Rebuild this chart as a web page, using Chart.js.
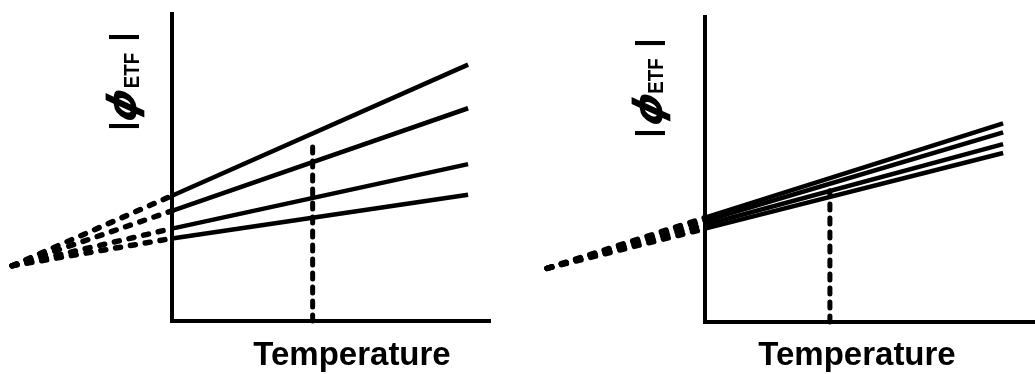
<!DOCTYPE html>
<html>
<head>
<meta charset="utf-8">
<script src="https://cdn.jsdelivr.net/npm/chart.js@4.4.1/dist/chart.umd.min.js"></script>
<style>
  html, body { margin: 0; padding: 0; background: #fff; }
  #wrap { position: relative; width: 1035px; height: 374px; overflow: hidden; }
  canvas { position: absolute; top: 0; }
  #cL { left: 0; }
  #cR { left: 517px; }
</style>
</head>
<body>
<div id="wrap">
  <canvas id="cL" width="517" height="374"></canvas>
  <canvas id="cR" width="518" height="374"></canvas>
</div>
<script>
// ---- Left panel: four lines that fan out from a common extrapolated point ----
const leftTemps = [-5.4, 0, 10];          // extrapolated origin, axis, end of line
const leftPhiA = [1.8, 4.08, 8.35];
const leftPhiB = [1.8, 3.59, 6.93];
const leftPhiC = [1.8, 3.01, 5.11];
const leftPhiD = [1.8, 2.69, 4.11];
const leftMarkT = [4.75, 4.75];           // vertical marker at the chosen temperature
const leftMarkPhi = [0, 5.92];

// ---- Right panel: four nearly coincident lines ----
const rightTemps = [-5.3, 0, 10];
const rightPhiA = [1.76, 3.42, 6.51];
const rightPhiB = [1.76, 3.32, 6.22];
const rightPhiC = [1.76, 3.19, 5.83];
const rightPhiD = [1.76, 3.06, 5.54];
const rightMarkT = [4.19, 4.19];
const rightMarkPhi = [0, 4.3];

const yLabelTexts = ['|', '\u03D5', 'ETF', '|'];
const xLabelText = 'Temperature';

const pts = (xs, ys) => xs.map((x, i) => ({ x, y: ys[i] }));

// solid above the axis, dashed for the extrapolated part (first segment)
function fanLine(xs, ys) {
  return {
    data: pts(xs, ys),
    borderColor: '#000',
    borderWidth: 4.5,
    borderCapStyle: 'butt',
    pointRadius: 0,
    tension: 0,
    clip: false,
    segment: {
      borderDash: c => (c.p0DataIndex === 0 ? [5, 10] : undefined),
      borderWidth: c => (c.p0DataIndex === 0 ? 5.5 : undefined),
      borderCapStyle: c => (c.p0DataIndex === 0 ? 'round' : undefined)
    }
  };
}

function markerLine(xs, ys) {
  return {
    data: pts(xs, ys),
    borderColor: '#000',
    borderWidth: 5,
    borderDash: [6, 8],
    borderCapStyle: 'round',
    pointRadius: 0,
    clip: false
  };
}

// draws the rotated |phi_ETF| caption and the temperature caption
const captions = {
  id: 'captions',
  afterDraw(chart, args, o) {
    const { ctx, chartArea: a } = chart;
    ctx.save();
    ctx.fillStyle = '#000';
    const bx = a.left + o.baseX;
    o.pieces.forEach(p => {
      ctx.save();
      ctx.translate(bx + (p.drop || 0), a.top + p.y);
      ctx.rotate(-Math.PI / 2);
      if (p.skew) ctx.transform(1, 0, -p.skew, 1, 0, 0);
      if (p.sx) ctx.scale(p.sx, 1);
      ctx.font = p.font;
      ctx.textAlign = 'center';
      ctx.textBaseline = 'alphabetic';
      ctx.fillText(p.text, 0, 0);
      ctx.restore();
    });
    ctx.font = o.captionFont;
    ctx.textAlign = 'center';
    ctx.textBaseline = 'alphabetic';
    ctx.fillText(xLabelText, a.left + o.captionX, a.bottom + o.captionY);
    ctx.restore();
  }
};

const SANS = '"Liberation Sans", Arial, sans-serif';
const barFont = 'bold 32px ' + SANS;
const phiFont = 'bold 40px "DejaVu Sans"';
const subFont = 'bold 22px ' + SANS;

function axisOpts(max) {
  return {
    type: 'linear',
    min: 0,
    max: max,
    ticks: { display: false },
    grid: { display: false, drawTicks: false },
    border: { display: true, color: '#000', width: 4 }
  };
}

function makeChart(id, datasets, xMax, padding, cap) {
  return new Chart(document.getElementById(id), {
    type: 'line',
    data: { datasets },
    options: {
      responsive: false,
      animation: false,
      devicePixelRatio: 1,
      layout: { padding },
      scales: { x: axisOpts(xMax), y: axisOpts(10) },
      plugins: {
        legend: { display: false },
        tooltip: { enabled: false },
        captions: cap
      }
    },
    plugins: [captions]
  });
}

makeChart('cL', [
  fanLine(leftTemps, leftPhiA),
  fanLine(leftTemps, leftPhiB),
  fanLine(leftTemps, leftPhiC),
  fanLine(leftTemps, leftPhiD),
  markerLine(leftMarkT, leftMarkPhi)
], 10.74, { left: 172, right: 27, top: 14, bottom: 53 }, {
  baseX: -40,
  pieces: [
    { text: yLabelTexts[0], y: 112, font: barFont },
    { text: yLabelTexts[1], y: 96, font: phiFont, drop: 4, skew: 0.45 },
    { text: yLabelTexts[2], y: 56.5, font: subFont, drop: 6.7, sx: 0.85 },
    { text: yLabelTexts[3], y: 23, font: barFont }
  ],
  captionFont: 'bold 33px ' + SANS,
  captionX: 180,
  captionY: 44
});

makeChart('cR', [
  fanLine(rightTemps, rightPhiA),
  fanLine(rightTemps, rightPhiB),
  fanLine(rightTemps, rightPhiC),
  fanLine(rightTemps, rightPhiD),
  markerLine(rightMarkT, rightMarkPhi)
], 11.07, { left: 188, right: 0, top: 17, bottom: 52 }, {
  baseX: -47,
  pieces: [
    { text: yLabelTexts[0], y: 116, font: barFont },
    { text: yLabelTexts[1], y: 97, font: phiFont, drop: 4, skew: 0.45 },
    { text: yLabelTexts[2], y: 59, font: subFont, drop: 5, sx: 0.85 },
    { text: yLabelTexts[3], y: 26, font: barFont }
  ],
  captionFont: 'bold 33px ' + SANS,
  captionX: 152,
  captionY: 43
});
</script>
</body>
</html>
